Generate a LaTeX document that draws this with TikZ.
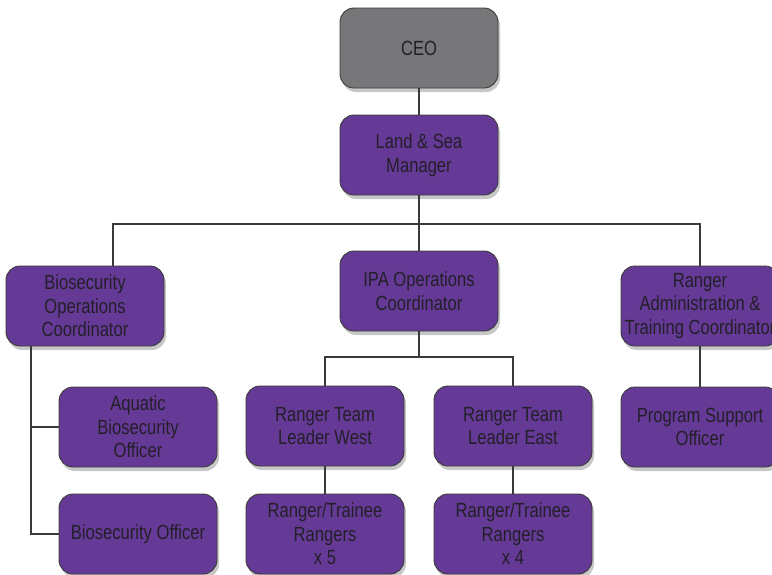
\documentclass[tikz,border=0pt]{standalone}
\usepackage{fontspec}
\setmainfont{Liberation Sans}[FakeStretch=0.81]
\usetikzlibrary{shadows}
\definecolor{boxpurple}{HTML}{653A96}
\definecolor{boxgray}{HTML}{77777A}
\definecolor{txt}{HTML}{231F28}
\definecolor{lin}{HTML}{3A3A3A}
\begin{document}
\begin{tikzpicture}[x=1pt,y=-1pt,
  orgbox/.style={draw=lin, line width=0.9pt, fill=boxpurple, rounded corners=14pt,
    minimum width=158pt, minimum height=80pt, align=center, text=txt,
    font=\fontsize{20.5}{23.5}\selectfont, inner sep=0pt,
    drop shadow={shadow xshift=2pt, shadow yshift=-4pt, opacity=0.22, fill=black}},
  ceobox/.style={orgbox, fill=boxgray},
  conn/.style={draw=lin, line width=1.1pt}]
\useasboundingbox (0,0) rectangle (772,574);
\clip (0,0) rectangle (772,574);
% nodes
\node[ceobox] (ceo) at (419,48) {CEO};
\node[orgbox] (lsm) at (419,155) {Land \& Sea\\Manager};
\node[orgbox] (boc) at (85,306) {Biosecurity\\Operations\\Coordinator};
\node[orgbox] (ipa) at (419,291) {IPA Operations\\Coordinator};
\node[orgbox] (rat) at (700,306) {Ranger\\Administration \&\\Training Coordinator};
\node[orgbox] (abo) at (138,427) {Aquatic\\Biosecurity\\Officer};
\node[orgbox] (bo) at (138,534) {Biosecurity Officer};
\node[orgbox] (rtw) at (325,426) {Ranger Team\\Leader West};
\node[orgbox] (rte) at (513,426) {Ranger Team\\Leader East};
\node[orgbox] (rrw) at (325,534) {Ranger/Trainee\\Rangers\\x 5};
\node[orgbox] (rre) at (513,534) {Ranger/Trainee\\Rangers\\x 4};
\node[orgbox] (pso) at (700,427) {Program Support\\Officer};
% connectors
\coordinate (bus) at (419,224);
\coordinate (ipabus) at (419,357);
\coordinate (bx) at (31,0);
\draw[conn] (ceo.south) -- (lsm.north);
\draw[conn] (lsm.south) -- (bus);
\draw[conn] (boc.north -| 113,0) -- (113,224) -- (700,224) -- (rat.north);
\draw[conn] (bus) -- (ipa.north);
\draw[conn] (ipa.south) -- (ipabus);
\draw[conn] (rtw.north) -- (rtw.north |- ipabus) -- (rte.north |- ipabus) -- (rte.north);
\draw[conn] (rtw.south) -- (rrw.north);
\draw[conn] (rte.south) -- (rre.north);
\draw[conn] (rat.south) -- (pso.north);
\draw[conn] (boc.south -| bx) -- (bx |- bo.west) -- (bo.west);
\draw[conn] (bx |- abo.west) -- (abo.west);
\end{tikzpicture}
\end{document}
